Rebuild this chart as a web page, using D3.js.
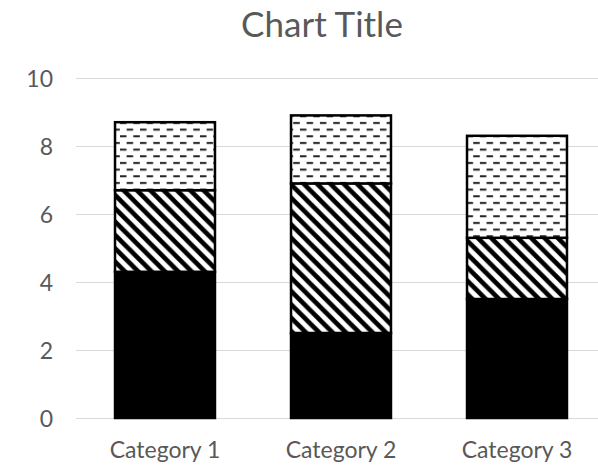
<!DOCTYPE html>
<html><head><meta charset="utf-8">
<script src="https://cdn.jsdelivr.net/npm/d3@7"></script>
<style>
html,body{margin:0;padding:0;background:#fff;overflow:hidden}
svg{display:block}
</style></head>
<body>
<svg id="chart" width="598" height="466"></svg>
<script>
const categories = ["Category 1", "Category 2", "Category 3"];
const series1 = [4.3, 2.5, 3.5];
const series2 = [2.4, 4.4, 1.8];
const series3 = [2, 2, 3];
const yTicks = [0, 2, 4, 6, 8, 10];
const title = "Chart Title";

const W = 598, H = 466;
const svg = d3.select("#chart");
const FONT = "Lato, 'Open Sans', sans-serif";

const x = d3.scaleBand().domain(categories).range([77, 605]).paddingInner(0.432).paddingOuter(0.216);
const y = d3.scaleLinear().domain([0, 10]).range([418, 78]);

// patterns
const defs = svg.append("defs");
const t = 13.33;
const hatch = defs.append("pattern").attr("id", "hatch").attr("patternUnits", "userSpaceOnUse")
  .attr("width", t).attr("height", t);
hatch.append("rect").attr("width", t).attr("height", t).attr("fill", "#fff");
hatch.append("path")
  .attr("d", `M${-t/2},${-t/2}L${t*1.5},${t*1.5}M${t/2},${-t/2}L${t*1.5},${t/2}M${-t/2},${t/2}L${t/2},${t*1.5}`)
  .attr("stroke", "#000").attr("stroke-width", 4.6);
const dash = defs.append("pattern").attr("id", "dash").attr("patternUnits", "userSpaceOnUse")
  .attr("width", t).attr("height", t);
dash.append("rect").attr("width", t).attr("height", t).attr("fill", "#fff");
dash.append("rect").attr("x", 0).attr("y", 2).attr("width", 6.5).attr("height", 2).attr("fill", "#222");
dash.append("rect").attr("x", t/2).attr("y", 2 + t/2).attr("width", 6.5).attr("height", 2).attr("fill", "#222");

// gridlines
svg.append("g").selectAll("line").data(yTicks).join("line")
  .attr("x1", 76).attr("x2", 598)
  .attr("y1", d => Math.round(y(d)) + 0.5).attr("y2", d => Math.round(y(d)) + 0.5)
  .attr("stroke", "#d9d9d9").attr("stroke-width", 1);

// y axis labels
const yAxis = d3.axisLeft(y).tickValues(yTicks).tickSize(0).tickPadding(0);
const gy = svg.append("g").attr("transform", "translate(53,0)").call(yAxis);
gy.select(".domain").remove();
gy.selectAll("text").attr("font-family", FONT).attr("font-size", 23).attr("fill", "#595959").attr("dy", "0.35em");

// x axis labels
const xAxis = d3.axisBottom(x).tickSize(0).tickPadding(0);
const gx = svg.append("g").attr("transform", "translate(0,458)").call(xAxis);
gx.select(".domain").remove();
gx.selectAll("text").attr("font-family", FONT).attr("font-size", 23).attr("fill", "#595959").attr("y", 0).attr("dy", 0);

// stacked bars
const data = categories.map((c, i) => ({cat: c, s1: series1[i], s2: series2[i], s3: series3[i]}));
const stack = d3.stack().keys(["s1", "s2", "s3"])(data);
const fills = {s1: "#000", s2: "url(#hatch)", s3: "url(#dash)"};
svg.append("g").selectAll("g").data(stack).join("g")
  .attr("fill", d => fills[d.key])
  .selectAll("rect").data(d => d).join("rect")
  .attr("x", d => x(d.data.cat))
  .attr("width", x.bandwidth())
  .attr("y", d => y(d[1]))
  .attr("height", d => y(d[0]) - y(d[1]))
  .attr("stroke", "#000").attr("stroke-width", 2.5);

// title
svg.append("text").attr("x", 322).attr("y", 37).attr("text-anchor", "middle")
  .attr("font-family", FONT).attr("font-size", 35).attr("fill", "#595959").text(title);
</script>
</body></html>
